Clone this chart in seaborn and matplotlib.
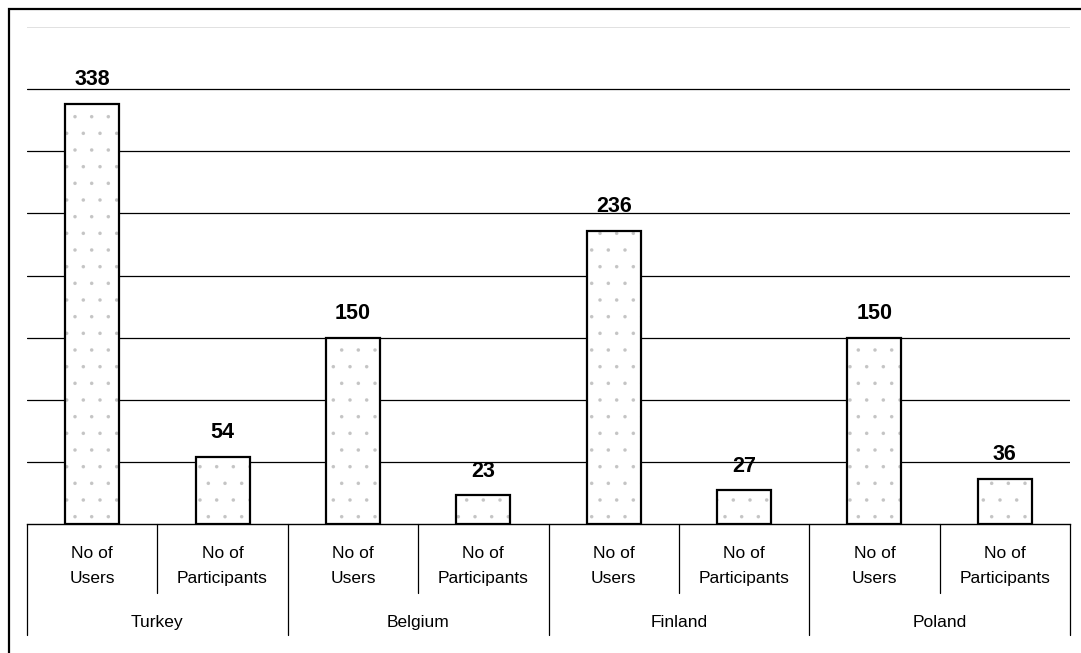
import matplotlib
matplotlib.use("Agg")
import matplotlib.pyplot as plt
import matplotlib.patches as mpatches
import seaborn as sns
import pandas as pd

countries = ["Turkey", "Belgium", "Finland", "Poland"]
metrics = ["No of Users", "No of Participants"]
metric_lines = [["No of", "Users"], ["No of", "Participants"]]
users = [338, 150, 236, 150]
participants = [54, 23, 27, 36]
y_ticks = [0, 50, 100, 150, 200, 250, 300, 350, 400]

rows = []
for c, u, p in zip(countries, users, participants):
    rows.append({"bar": f"{c}|{metrics[0]}", "country": c, "metric": metrics[0], "value": u})
    rows.append({"bar": f"{c}|{metrics[1]}", "country": c, "metric": metrics[1], "value": p})
df = pd.DataFrame(rows)

sns.set_style("white")
plt.rcParams["font.family"] = ["Liberation Sans", "DejaVu Sans"]
plt.rcParams["text.color"] = "black"
plt.rcParams["hatch.color"] = "#c4c4c4"
plt.rcParams["hatch.linewidth"] = 0.1

fig = plt.figure(figsize=(10.81, 6.53), dpi=100)
ax = fig.add_axes([27 / 1081, 129 / 653, 1043 / 1081, 497 / 653])

# dotted fill
sns.barplot(data=df, x="bar", y="value", order=list(df["bar"]), color="white",
            edgecolor="#c4c4c4", linewidth=0, hatch=".", width=0.415, ax=ax,
            errorbar=None, zorder=2)
# black outline
sns.barplot(data=df, x="bar", y="value", order=list(df["bar"]), color="black",
            fill=False, linewidth=1.6, width=0.415, ax=ax, errorbar=None, zorder=3)

ax.bar_label(ax.containers[1], labels=[str(v) for v in df["value"]], padding=10,
             fontsize=15.5, fontweight="bold", color="black")

ax.set_ylim(0, 400)
ax.set_xlim(-0.5, len(df) - 0.5)
ax.set_yticks(y_ticks)
for t in y_ticks[1:-1]:
    ax.axhline(t, color="black", lw=0.9, zorder=1)
ax.axhline(400, color="#dcdcdc", lw=1.2, zorder=1)

for s in ["left", "right", "top"]:
    ax.spines[s].set_visible(False)
ax.spines["bottom"].set_color("black")
ax.spines["bottom"].set_linewidth(1.0)
ax.set_xticks([])
ax.set_yticklabels([])
ax.tick_params(left=False, bottom=False)
ax.set_xlabel("")
ax.set_ylabel("")

trans = ax.get_xaxis_transform()
n = len(df)
# separators
for i in range(n + 1):
    x = i - 0.5
    y_end = -0.2233 if i % 2 == 0 else -0.1388
    ax.plot([x, x], [0, y_end], color="black", lw=0.9, transform=trans, clip_on=False)

# metric labels
for i in range(n):
    l1, l2 = metric_lines[i % 2]
    ax.text(i, -0.0684, l1, transform=trans, ha="center", va="baseline", fontsize=12.5, color="black")
    ax.text(i, -0.1187, l2, transform=trans, ha="center", va="baseline", fontsize=12.5, color="black")

# country labels
for j, c in enumerate(countries):
    ax.text(2 * j + 0.5, -0.2072, c, transform=trans, ha="center", va="baseline",
            fontsize=12.5, color="black")

# outer frame
fig.patches.append(mpatches.Rectangle((9 / 1081, -0.1), 1.2, 1 - 9 / 653 + 0.1,
                                      transform=fig.transFigure, fill=False,
                                      lw=1.6, edgecolor="black"))

fig.savefig("out.png", dpi=100)
